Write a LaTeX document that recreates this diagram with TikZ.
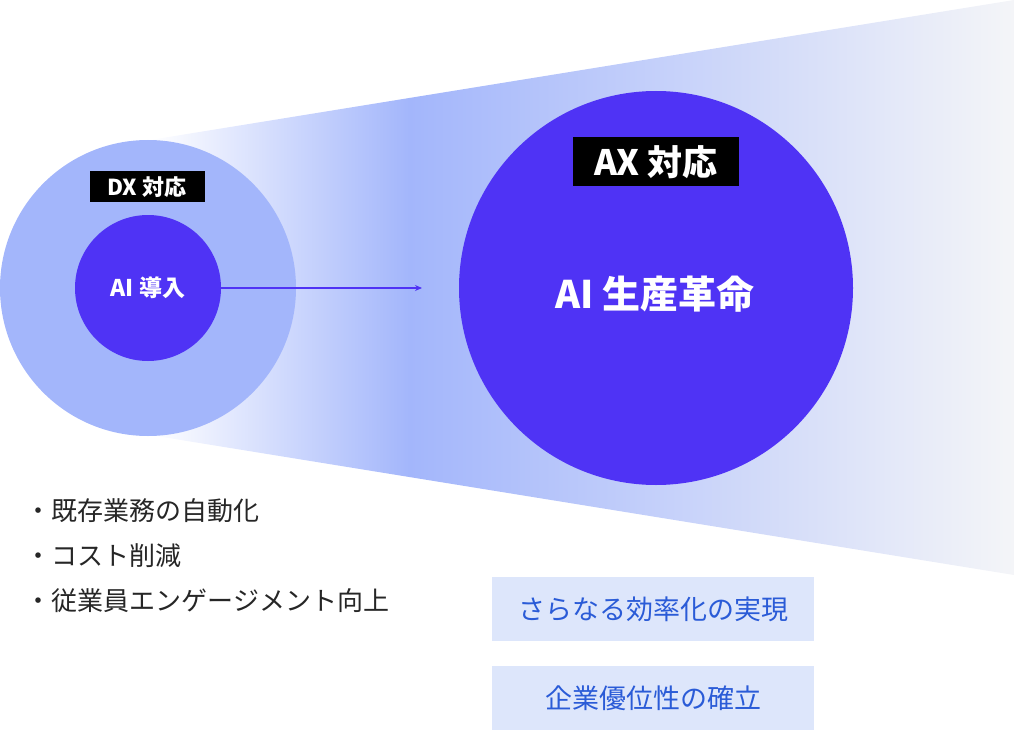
\documentclass[tikz,border=0pt]{standalone}
\usepackage{fontspec}
\setmainfont{Noto Sans CJK JP}
\usetikzlibrary{arrows.meta}
\definecolor{light}{HTML}{A3B6FB}
\definecolor{deep}{HTML}{4F33F5}
\definecolor{boxbg}{HTML}{DDE6FB}
\definecolor{boxtx}{HTML}{2A5BD7}
\definecolor{endg}{HTML}{F4F5F8}
\pgfdeclarehorizontalshading{cone}{100bp}{color(0bp)=(white); color(25bp)=(white); color(40bp)=(light); color(75bp)=(endg); color(100bp)=(endg)}
\begin{document}
\begin{tikzpicture}[x=1pt,y=-1pt,
  lbl/.style={fill=black,text=white,inner sep=0pt},
  bul/.style={anchor=west,font=\fontsize{26}{30}\selectfont,text=black!85},
  res/.style={fill=boxbg,text=boxtx,minimum width=322pt,minimum height=64pt,inner sep=0pt,font=\fontsize{27}{30}\selectfont}]
\useasboundingbox (0,0) rectangle (1014,730);
\shade[shading=cone] (150,140) -- (1014,0) -- (1014,575) -- (150,435) -- cycle;
\node[circle,fill=light,minimum size=296pt,inner sep=0pt] (outer) at (148,288) {};
\node[circle,fill=deep,minimum size=146pt,inner sep=0pt,text=white,font=\fontsize{23}{26}\selectfont\bfseries] (ai) at (148,288) {AI 導入};
\node[lbl,minimum width=115pt,minimum height=31pt,font=\fontsize{22}{24}\selectfont\bfseries] (dx) at (147,187) {DX 対応};
\node[circle,fill=deep,minimum size=394pt,inner sep=0pt] (big) at (656,288) {};
\coordinate (tip) at (422,288);
\draw[deep,line width=1.2pt,-{Stealth[length=7pt,width=6pt]}] (ai.east) -- (tip);
\node[lbl,minimum width=166pt,minimum height=49pt,font=\fontsize{35}{38}\selectfont\bfseries] (ax) at (656,162) {AX 対応};
\node[text=white,font=\fontsize{38}{42}\selectfont\bfseries] (rev) at (655,294) {AI 生産革命};
\node[bul] (b1) at (22,511) {・既存業務の自動化};
\node[bul] (b2) at (22,556) {・コスト削減};
\node[bul] (b3) at (22,601) {・従業員エンゲージメント向上};
\node[res] (r1) at (653,609) {さらなる効率化の実現};
\node[res] (r2) at (653,698) {企業優位性の確立};
\end{tikzpicture}
\end{document}
